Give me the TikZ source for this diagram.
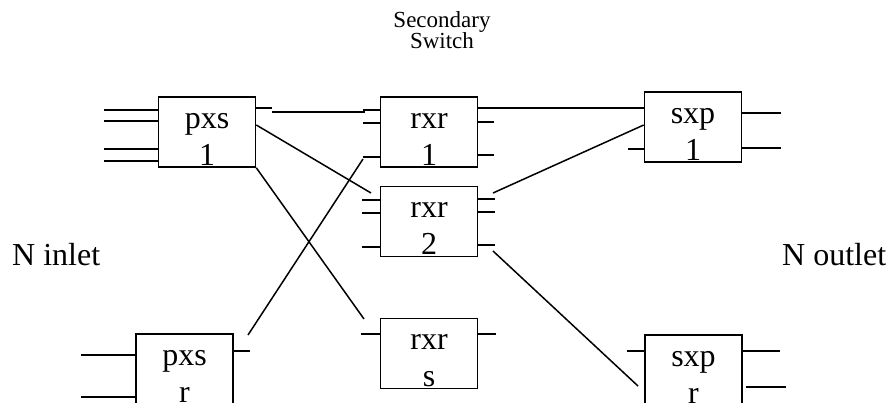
\documentclass[tikz,border=0pt]{standalone}
\usepackage{fontspec}
\setmainfont{Liberation Serif}
\tikzset{
	unit/.style = {draw, line width = 1.6pt, minimum width = 97pt,
		minimum height = 70pt, inner sep = 0pt},
	tag/.style = {align = center, font = \fontsize{32}{37}\selectfont,
		yshift = -7.4pt},
	wire/.style = {line width = 1.5pt},
	side/.style = {font = \fontsize{32}{37}\selectfont, anchor = base west,
		inner sep = 0pt}
}
\begin{document}
\begin{tikzpicture}[x = 1pt, y = -1pt]
\useasboundingbox (0,0) rectangle (886,402);
% switching units
\node [unit, label = {[tag]center:pxs\\1}] (pxs1) at (207,132) {};
\node [unit, label = {[tag]center:pxs\\r}] (pxsr) at (184.5,369) {};
\node [unit, label = {[tag]center:rxr\\1}] (rxr1) at (429,132) {};
\node [unit, label = {[tag]center:rxr\\2}] (rxr2) at (429,221.5) {};
\node [unit, label = {[tag]center:rxr\\s}] (rxrs) at (429,353.5) {};
\node [unit, label = {[tag]center:sxp\\1}] (sxp1) at (693,127) {};
\node [unit, label = {[tag]center:sxp\\r}] (sxpr) at (693.5,370) {};
% texts
\node [align = center, font = \fontsize{23}{21}\selectfont, inner sep = 0pt]
	(title) at (442,30) {Secondary\\Switch};
\node [side] (inlet) at (12,265) {N inlet};
\node [side] (outlet) at (782,265) {N outlet};
% stubs
\foreach \y in {110,121,149,161}
	\draw [wire] (pxs1.west |- 0,\y) -- ++(-54,0);
\foreach \y in {355,397}
	\draw [wire] (pxsr.west |- 0,\y) -- ++(-54,0);
\draw [wire] (pxsr.east |- 0,351) -- ++(16,0);
\draw [wire] (pxs1.east |- 0,108) -- ++(16,0) coordinate (p1o);
\foreach \y in {110,123,157}
	\draw [wire] (rxr1.west |- 0,\y) -- ++(-17,0);
\foreach \y in {108,122,155}
	\draw [wire] (rxr1.east |- 0,\y) -- ++(16,0);
\foreach \y in {200,213,247}
	\draw [wire] (rxr2.west |- 0,\y) -- ++(-18,0);
\foreach \y in {199,212,245}
	\draw [wire] (rxr2.east |- 0,\y) -- ++(17,0);
\draw [wire] (rxrs.west |- 0,334) -- ++(-19,0);
\draw [wire] (rxrs.east |- 0,334) -- ++(18,0);
\draw [wire] (sxp1.west |- 0,149) -- ++(-16,0);
\foreach \y in {113,148}
	\draw [wire] (sxp1.east |- 0,\y) -- ++(39,0);
\draw [wire] (sxpr.west |- 0,351) -- ++(-17,0);
\draw [wire] (sxpr.east |- 0,351) -- ++(37,0);
\draw [wire] (sxpr.east |- 0,387) ++(3,0) -- ++(40,0);
% free ends of the links
\coordinate (r1i) at (365,112);
\coordinate (r1o) at (493,108);
\coordinate (r2i) at (371,193);
\coordinate (r2o) at (493,193);
\coordinate (r2b) at (493,251);
\coordinate (rsi) at (364,319);
\coordinate (r1b) at (363,159);
\coordinate (pro) at (248,335);
\coordinate (sri) at (638,386);
% links
\draw [wire] (p1o |- 0,112) -- (r1i);
\draw [wire] (pxs1.east |- 0,125) -- (r2i);
\draw [wire] (pxs1.south east) -- (rsi);
\draw [wire] (pro) -- (r1b);
\draw [wire] (r1o) -- (sxp1.west |- r1o);
\draw [wire] (r2o) -- (sxp1.west |- 0,125);
\draw [wire] (r2b) -- (sri);
\end{tikzpicture}
\end{document}
